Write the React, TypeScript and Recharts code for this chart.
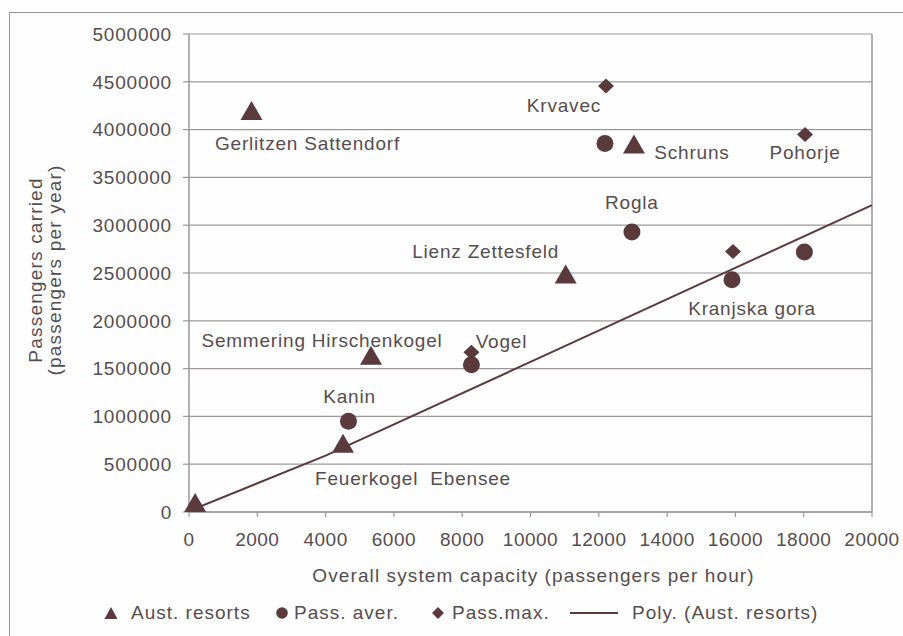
import { ScatterChart, Scatter, XAxis, YAxis, CartesianGrid, ReferenceLine, Label } from "recharts"

// overall system capacity (passengers per hour) / passengers carried (per year)
const austCapacity = [180, 1830, 4510, 5330, 11030, 13030]
const austPassengers = [100000, 4200000, 720000, 1640000, 2490000, 3850000]
const austNames = ["", "Gerlitzen Sattendorf", "Feuerkogel\u00a0 Ebensee", "Semmering Hirschenkogel", "Lienz Zettesfeld", "Schruns"]

const averCapacity = [4670, 8270, 12180, 12970, 15900, 18020]
const averPassengers = [950000, 1540000, 3855000, 2930000, 2430000, 2720000]
const averNames = ["Kanin", "", "", "Rogla", "Kranjska gora", ""]

const maxCapacity = [8270, 12210, 15930, 18040]
const maxPassengers = [1670000, 4455000, 2725000, 3950000]
const maxNames = ["Vogel", "Krvavec", "", "Pohorje"]

// polynomial trendline for the Austrian resorts
const trendCapacity = [0, 4000, 10000, 20000]
const trendPassengers = [10000, 590000, 1570000, 3210000]

const xTicks = [0, 2000, 4000, 6000, 8000, 10000, 12000, 14000, 16000, 18000, 20000]
const yTicks = [0, 500000, 1000000, 1500000, 2000000, 2500000, 3000000, 3500000, 4000000, 4500000, 5000000]

const legendNames = ["Aust. resorts", "Pass. aver.", "Pass.max.", "Poly. (Aust. resorts)"]

// label placement relative to the marker centre: [dx of text centre, dy of baseline]
const labelOffsets: Record<string, [number, number]> = {
  "Gerlitzen Sattendorf": [56, 40],
  "Feuerkogel\u00a0 Ebensee": [70, 42],
  "Semmering Hirschenkogel": [-49, -8],
  "Lienz Zettesfeld": [-80, -16],
  Schruns: [58, 15],
  Kanin: [1, -18],
  Rogla: [0, -23],
  "Kranjska gora": [20, 35],
  Vogel: [30, -4],
  Krvavec: [-42, 26],
  Pohorje: [0, 25],
}

const FONT = "'Liberation Sans', Arial, Helvetica, sans-serif"
const INK = "#5a3a3c"
const TEXT = "#564d4f"
const GRID = "#9d9799"
const FS = 19
const LS = 0.8

const zip = (xs: number[], ys: number[], names?: string[]) =>
  xs.map((x, i) => ({ x, y: ys[i], name: names ? names[i] : "" }))

const austData = zip(austCapacity, austPassengers, austNames)
const averData = zip(averCapacity, averPassengers, averNames)
const maxData = zip(maxCapacity, maxPassengers, maxNames)
const trendData = zip(trendCapacity, trendPassengers)

function PointLabel({ cx, cy, name }: { cx: number; cy: number; name: string }) {
  if (!name) return null
  const [dx, dy] = labelOffsets[name] ?? [0, -12]
  return (
    <text x={cx + dx} y={cy + dy} textAnchor="middle" fill={TEXT} fontSize={FS} fontFamily={FONT} letterSpacing={LS}>
      {name}
    </text>
  )
}

function triangleShape(props: any) {
  const { cx, cy, payload } = props
  const w = 11
  const h = 9.5
  return (
    <g>
      <path d={`M${cx},${cy - h} L${cx + w},${cy + h} L${cx - w},${cy + h} Z`} fill={INK} />
      <PointLabel cx={cx} cy={cy} name={payload?.name} />
    </g>
  )
}

function circleShape(props: any) {
  const { cx, cy, payload } = props
  return (
    <g>
      <circle cx={cx} cy={cy} r={8.5} fill={INK} />
      <PointLabel cx={cx} cy={cy} name={payload?.name} />
    </g>
  )
}

function diamondShape(props: any) {
  const { cx, cy, payload } = props
  return (
    <g>
      <path d={`M${cx},${cy - 7.5} L${cx + 8},${cy} L${cx},${cy + 7.5} L${cx - 8},${cy} Z`} fill={INK} />
      <PointLabel cx={cx} cy={cy} name={payload?.name} />
    </g>
  )
}

function YTitle(props: any) {
  const y = props.viewBox ? props.viewBox.y + props.viewBox.height / 2 - 3 : 270
  return (
    <g fill={TEXT} fontSize={FS} fontFamily={FONT} letterSpacing={1.2}>
      <text x={42} y={y} textAnchor="middle" transform={`rotate(-90, 42, ${y})`}>
        Passengers carried
      </text>
      <text x={61} y={y} textAnchor="middle" transform={`rotate(-90, 61, ${y})`}>
        (passengers per year)
      </text>
    </g>
  )
}

function XTitle(props: any) {
  const vb = props.viewBox
  const x = vb ? vb.x + vb.width / 2 + 3 : 533
  const y = vb ? vb.y + 70 : 582
  return (
    <text x={x} y={y} textAnchor="middle" fill={TEXT} fontSize={FS} fontFamily={FONT} letterSpacing={1.1}>
      Overall system capacity (passengers per hour)
    </text>
  )
}

function LegendRow() {
  const item = (left: number, icon: React.ReactNode, label: string, iconW: number, gap: number) => (
    <div style={{ position: "absolute", left, top: 0, display: "flex", alignItems: "center", height: 22 }}>
      <svg width={iconW} height={16} style={{ marginRight: gap }}>
        {icon}
      </svg>
      <span>{label}</span>
    </div>
  )
  return (
    <div
      style={{
        position: "absolute",
        left: 0,
        top: 602,
        width: 903,
        height: 22,
        fontFamily: FONT,
        fontSize: FS,
        letterSpacing: 1,
        color: TEXT,
        whiteSpace: "nowrap",
      }}
    >
      {item(104, <path d="M7,2 L13.5,14 L0.5,14 Z" fill={INK} />, legendNames[0], 14, 13)}
      {item(276, <circle cx={6} cy={8} r={5.8} fill={INK} />, legendNames[1], 12, 6)}
      {item(432, <path d="M6,2 L12,8 L6,14 L0,8 Z" fill={INK} />, legendNames[2], 12, 8)}
      {item(570, <line x1={0} y1={8} x2={48} y2={8} stroke={INK} strokeWidth={2} />, legendNames[3], 48, 14)}
    </div>
  )
}

export default function App() {
  return (
    <div
      style={{
        position: "fixed",
        left: 0,
        top: 0,
        width: 903,
        height: 636,
        overflow: "hidden",
        background: "#fefefe",
      }}
    >
      <div
        style={{
          position: "absolute",
          left: 9,
          top: 12,
          width: 1000,
          height: 1000,
          borderLeft: `1.5px solid ${GRID}`,
          borderTop: `1.5px solid ${GRID}`,
        }}
      />
      <ScatterChart width={903} height={636} margin={{ top: 34, right: 31, left: 0, bottom: 0 }}>
        <CartesianGrid vertical={false} stroke={GRID} strokeWidth={1.2} />
        <XAxis
          type="number"
          dataKey="x"
          domain={[0, 20000]}
          ticks={xTicks}
          interval={0}
          height={124}
          tickSize={5}
          tickMargin={16}
          axisLine={{ stroke: GRID, strokeWidth: 1.5 }}
          tickLine={{ stroke: GRID, strokeWidth: 1.2 }}
          tick={{ fill: TEXT, fontSize: FS, fontFamily: FONT, letterSpacing: 0.5 }}
        >
          <Label content={XTitle} />
        </XAxis>
        <YAxis
          type="number"
          dataKey="y"
          domain={[0, 5000000]}
          ticks={yTicks}
          interval={0}
          width={189}
          tickSize={6}
          tickMargin={11}
          axisLine={{ stroke: GRID, strokeWidth: 1.5 }}
          tickLine={{ stroke: GRID, strokeWidth: 1.2 }}
          tick={{ fill: TEXT, fontSize: FS, fontFamily: FONT, letterSpacing: LS }}
        >
          <Label content={YTitle} />
        </YAxis>
        <ReferenceLine x={20000} stroke={GRID} strokeWidth={1.5} />
        <Scatter
          name={legendNames[3]}
          data={trendData}
          line={{ stroke: INK, strokeWidth: 2 }}
          lineType="joint"
          shape={() => <g />}
          isAnimationActive={false}
        />
        <Scatter name={legendNames[1]} data={averData} shape={circleShape} isAnimationActive={false} />
        <Scatter name={legendNames[2]} data={maxData} shape={diamondShape} isAnimationActive={false} />
        <Scatter name={legendNames[0]} data={austData} shape={triangleShape} isAnimationActive={false} />
      </ScatterChart>
      <LegendRow />
    </div>
  )
}
